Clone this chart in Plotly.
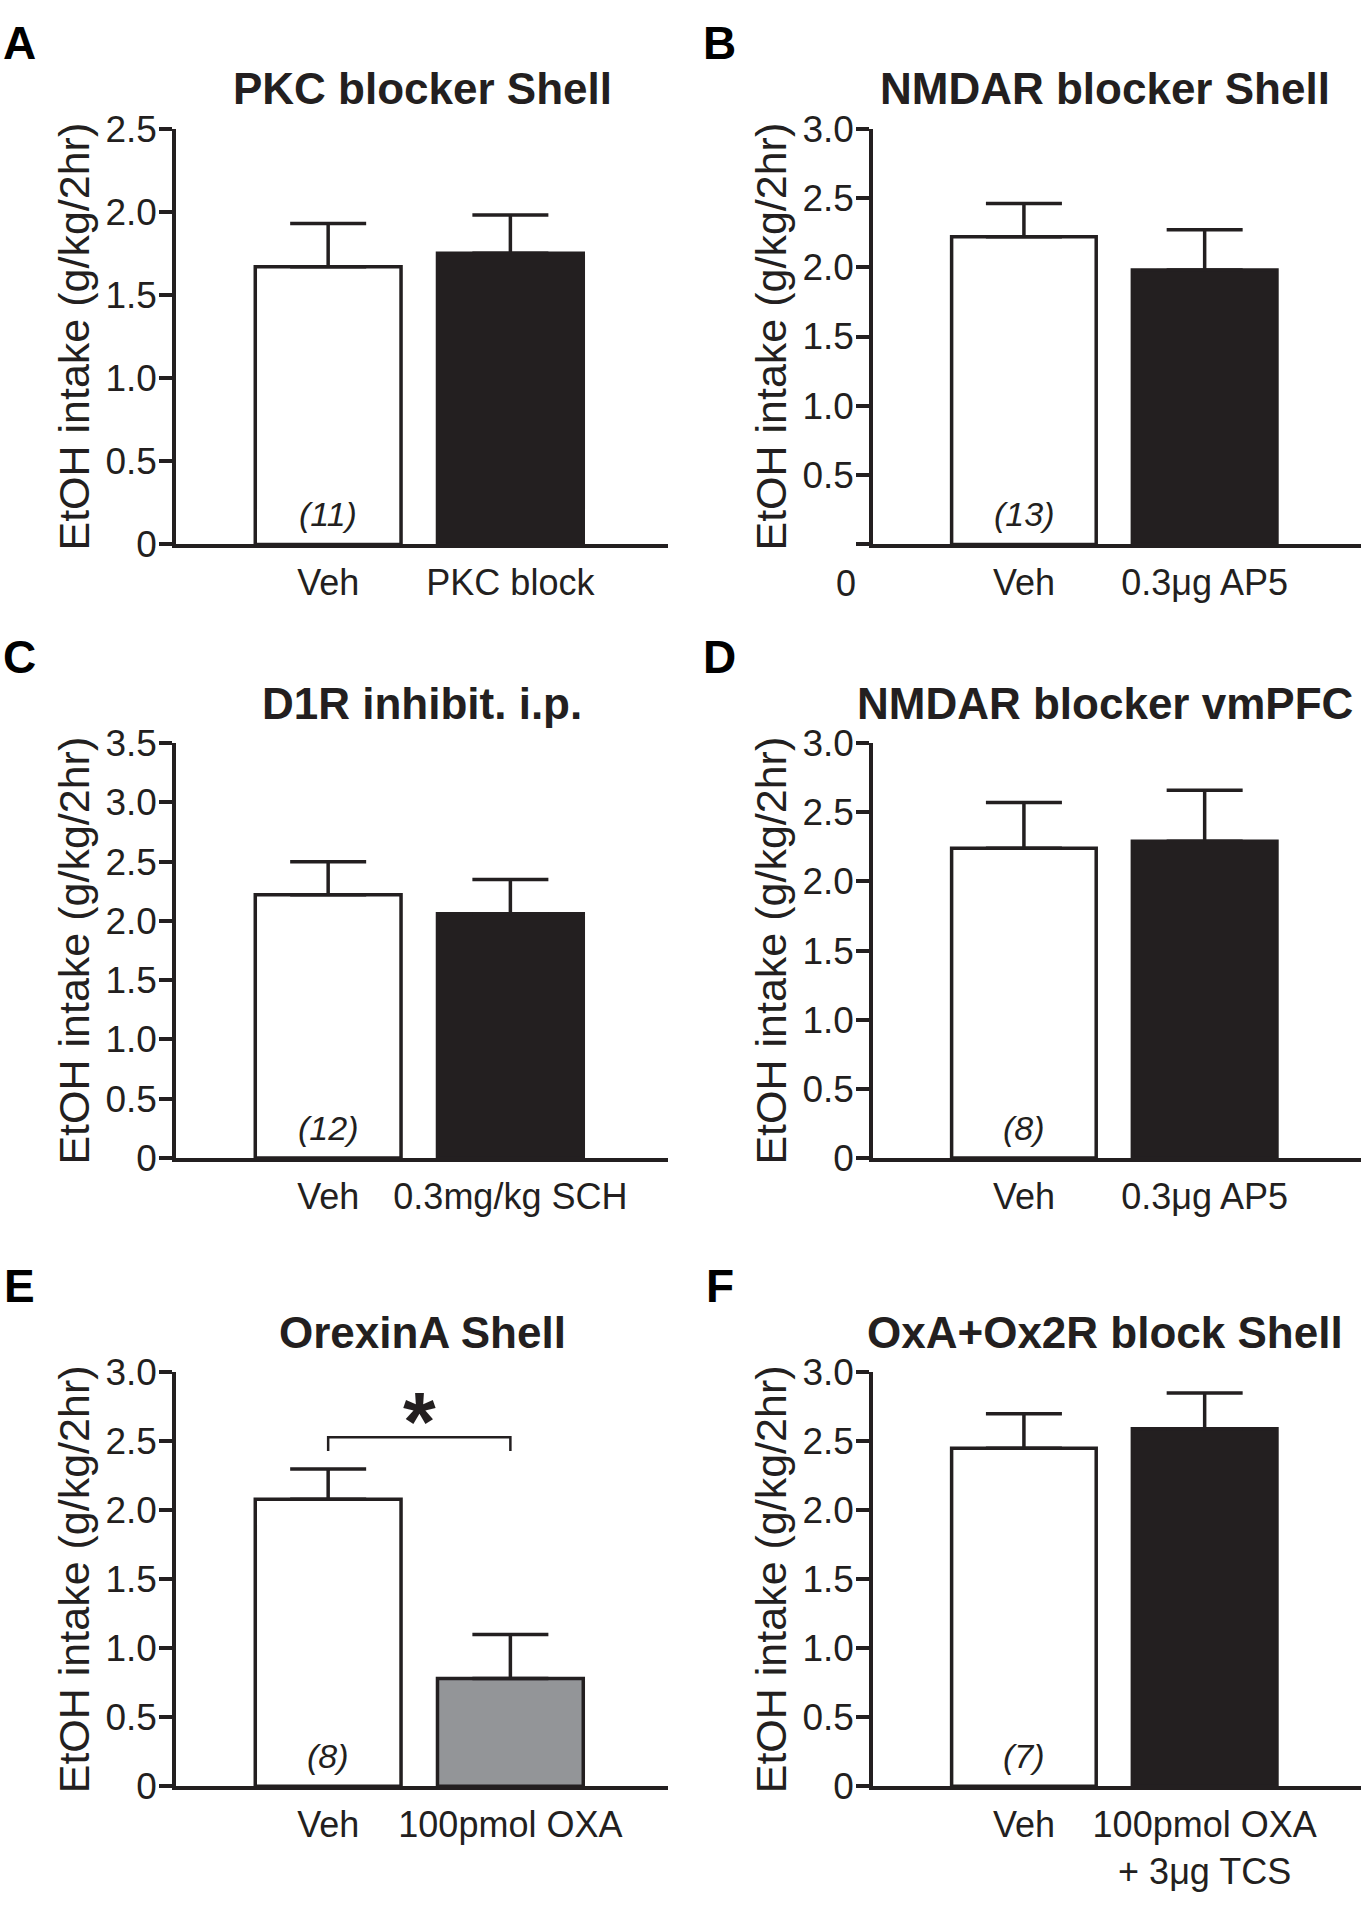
import plotly.graph_objects as go

W, H = 1361, 1908
INK = "#231f20"
GREY = "#939598"
FONT = "Liberation Sans, Arial, Helvetica, sans-serif"

# ---- data ----
letters = ["A", "B", "C", "D", "E", "F"]
titles = ["PKC blocker Shell", "NMDAR blocker Shell", "D1R inhibit. i.p.",
          "NMDAR blocker vmPFC", "OrexinA Shell", "OxA+Ox2R block Shell"]
groups = [
    ["Veh", "PKC block"],
    ["Veh", "0.3μg AP5"],
    ["Veh", "0.3mg/kg SCH"],
    ["Veh", "0.3μg AP5"],
    ["Veh", "100pmol OXA"],
    ["Veh", "100pmol OXA<br>+ 3μg TCS"],
]
means = [[1.67, 1.75], [2.22, 1.98], [2.22, 2.06],
         [2.24, 2.29], [2.08, 0.78], [2.45, 2.59]]
sems = [[0.26, 0.23], [0.24, 0.29], [0.28, 0.29],
        [0.33, 0.37], [0.22, 0.32], [0.25, 0.26]]
n_veh = ["(11)", "(13)", "(12)", "(8)", "(8)", "(7)"]
y_max = [2.5, 3.0, 3.5, 3.0, 3.0, 3.0]
treat_fill = [INK, INK, INK, INK, GREY, INK]
sig_legs = [2.43, 2.43]   # panel E bracket leg ends
sig_top = 2.53            # panel E bracket height
sig_star = 2.71

# ---- layout in pixels ----
col_x = [(176, 668), (873, 1361)]
row_y = [(111, 536), (739, 1163), (1382, 1805)]
title_x = [422, 1105]
letter_x = [19, 720]
x_range = [-0.835, 1.865]


def px(v):
    return v / W


def py(v):
    return 1 - v / H


fig = go.Figure()
annotations = []

for i in range(6):
    r, c = divmod(i, 2)
    k = "" if i == 0 else str(i + 1)
    xa, ya = "x" + k, "y" + k
    x0, x1 = col_x[c]
    top, bot = row_y[r]

    fig.add_trace(go.Bar(
        x=[0, 1], y=means[i], width=0.8,
        marker=dict(color=["white", treat_fill[i]], line=dict(color=INK, width=3.5)),
        error_y=dict(type="data", array=sems[i], arrayminus=[0, 0], symmetric=False,
                     color=INK, thickness=3.5, width=38),
        xaxis=xa, yaxis=ya, showlegend=False, hoverinfo="skip",
    ))

    ticks = [j * 0.5 for j in range(int(y_max[i] / 0.5) + 1)]
    ticktext = ["0" if t == 0 else f"{t:.1f}" for t in ticks]
    if i == 1:
        ticktext[0] = ""  # the zero of panel B sits below the axis

    fig.layout["xaxis" + k] = dict(
        domain=[px(x0), px(x1)], anchor=ya, range=x_range,
        tickvals=[0, 1], ticktext=groups[i], ticks="", ticklabelstandoff=4,
        showline=True, linecolor=INK, linewidth=3.5,
        showgrid=False, zeroline=False,
        tickfont=dict(family=FONT, size=36, color=INK),
    )
    fig.layout["yaxis" + k] = dict(
        domain=[py(bot), py(top)], anchor=xa, range=[0, y_max[i]],
        tickvals=ticks, ticktext=ticktext, ticklabelstandoff=-5,
        ticks="outside", ticklen=13, tickwidth=3.5, tickcolor=INK,
        showline=True, linecolor=INK, linewidth=3.5,
        showgrid=False, zeroline=False,
        tickfont=dict(family=FONT, size=37, color=INK),
    )

    # panel letter
    annotations.append(dict(
        text=letters[i], xref="paper", yref="paper",
        x=px(letter_x[c]), y=py(top - 88),
        xanchor="center", yanchor="middle", showarrow=False,
        font=dict(family=FONT, size=46, color="black", weight="bold"),
    ))
    # panel title
    annotations.append(dict(
        text=titles[i], xref="paper", yref="paper",
        x=px(title_x[c]), y=py(top - 41),
        xanchor="center", yanchor="middle", showarrow=False,
        font=dict(family=FONT, size=44, color=INK, weight="bold"),
    ))
    # y axis title
    annotations.append(dict(
        text="EtOH intake (g/kg/2hr)", textangle=-90,
        xref=xa + " domain", yref=ya + " domain", x=0, y=0.5,
        xshift=-102, xanchor="center", yanchor="middle", showarrow=False,
        font=dict(family=FONT, size=43, color=INK),
    ))
    # n in vehicle bar
    annotations.append(dict(
        text="<i>" + n_veh[i] + "</i>", xref=xa, yref=ya, x=0, y=0,
        yshift=30, xanchor="center", yanchor="middle", showarrow=False,
        font=dict(family=FONT, size=34, color=INK),
    ))

# stray zero under panel B's axis
annotations.append(dict(
    text="0", xref="x2 domain", yref="y2", x=0, y=0, xshift=-27, yshift=-39,
    xanchor="center", yanchor="middle", showarrow=False,
    font=dict(family=FONT, size=36, color=INK),
))

# significance bracket, panel E
fig.add_trace(go.Scatter(
    x=[0, 0, 1, 1], y=[sig_legs[0], sig_top, sig_top, sig_legs[1]],
    mode="lines", line=dict(color=INK, width=2.5),
    xaxis="x5", yaxis="y5", showlegend=False, hoverinfo="skip",
))
annotations.append(dict(
    text="*", xref="x5", yref="y5", x=0.5, y=sig_star, yshift=-10,
    xanchor="center", yanchor="middle", showarrow=False,
    font=dict(family=FONT, size=84, color=INK, weight="bold"),
))

fig.update_layout(
    width=W, height=H, margin=dict(l=0, r=0, t=0, b=0),
    paper_bgcolor="white", plot_bgcolor="white",
    showlegend=False, bargap=0.2,
    annotations=annotations,
)

fig.write_html("out.html", config={"displayModeBar": False},
               post_script="document.body.style.margin='0';")
